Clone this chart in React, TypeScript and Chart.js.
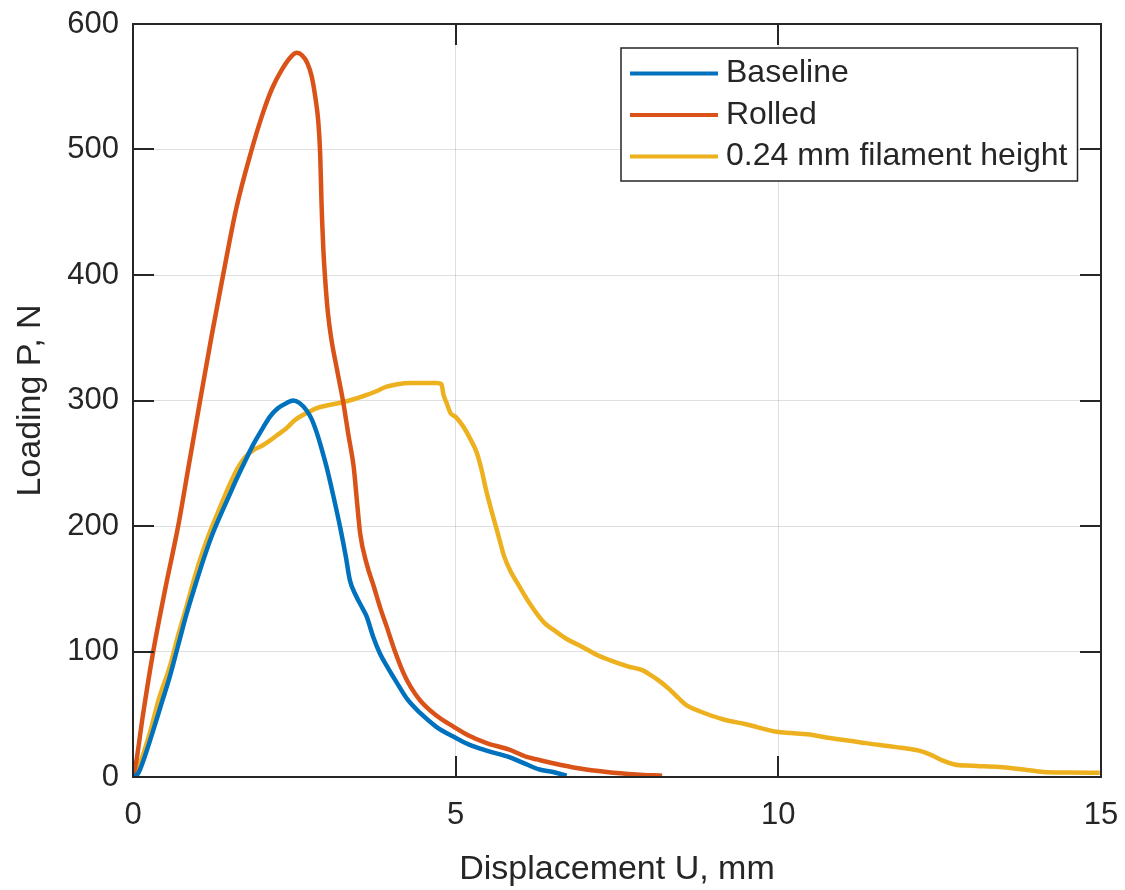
import React, { useEffect, useRef } from "react";
import { Chart, registerables } from "chart.js";

Chart.register(...registerables);

// ---- Data ----
const baselineX = [0, 0.08, 0.16, 0.3, 0.45, 0.57, 0.7, 0.83, 0.96, 1.09, 1.22, 1.35, 1.48, 1.61, 1.74, 1.865, 2.0, 2.12, 2.25, 2.38, 2.48, 2.58, 2.69, 2.77, 2.85, 2.92, 3.0, 3.1, 3.21, 3.3, 3.36, 3.45, 3.55, 3.62, 3.72, 3.83, 3.95, 4.09, 4.25, 4.45, 4.7, 4.97, 5.2, 5.48, 5.82, 6.1, 6.3, 6.51, 6.72];
const baselineY = [0, 3, 13, 35, 60, 80, 105, 130, 152, 173, 192, 208, 223, 238, 252, 265, 277, 287, 294, 298, 300, 298, 292, 285, 274, 262, 247, 225, 199, 175, 157, 145, 135, 128, 112, 98, 87, 75, 62, 51, 40, 32, 26, 21, 16, 10, 6, 4, 1];

const rolledX = [0, 0.05, 0.15, 0.31, 0.5, 0.7, 0.87, 1.04, 1.22, 1.4, 1.6, 1.84, 2.0, 2.15, 2.3, 2.45, 2.54, 2.62, 2.7, 2.77, 2.83, 2.87, 2.9, 2.92, 2.93, 2.95, 2.98, 3.02, 3.07, 3.16, 3.26, 3.34, 3.42, 3.47, 3.52, 3.62, 3.73, 3.83, 3.93, 4.06, 4.19, 4.3, 4.45, 4.7, 4.97, 5.2, 5.48, 5.82, 6.1, 6.26, 6.51, 6.9, 7.34, 7.8, 8.2];
const rolledY = [0, 12, 48, 99, 150, 200, 250, 300, 352, 401, 453, 500, 527, 548, 563, 574, 577, 575, 569, 558, 540, 523, 497, 460, 444, 420, 395, 370, 350, 325, 298, 272, 247, 220, 194, 170, 152, 135, 120, 100, 83, 72, 61, 49, 40, 33, 27, 22, 16, 14, 11, 7, 4, 2, 1];

const filamentX = [0, 0.1, 0.26, 0.4, 0.57, 0.7, 0.83, 0.96, 1.09, 1.22, 1.35, 1.48, 1.61, 1.74, 1.865, 2.0, 2.12, 2.25, 2.38, 2.5, 2.69, 2.85, 3.0, 3.2, 3.42, 3.6, 3.75, 3.93, 4.1, 4.29, 4.5, 4.71, 4.78, 4.81, 4.86, 4.92, 5.0, 5.12, 5.22, 5.33, 5.4, 5.47, 5.54, 5.61, 5.68, 5.75, 5.85, 5.95, 6.15, 6.37, 6.55, 6.72, 6.95, 7.2, 7.45, 7.68, 7.9, 8.03, 8.17, 8.31, 8.45, 8.58, 8.8, 9.14, 9.5, 9.97, 10.2, 10.45, 10.8, 11.35, 11.8, 12.18, 12.3, 12.39, 12.55, 12.73, 13.0, 13.42, 13.8, 14.11, 14.5, 14.98];
const filamentY = [0, 10, 35, 62, 88, 113, 136, 160, 181, 199, 215, 231, 245, 255, 260.5, 264, 268, 273, 278, 284, 290, 294, 296, 298, 301, 304, 307, 311, 313, 314, 314, 314, 313, 305, 298, 290, 287, 279, 270, 258, 245, 229, 215, 202, 189, 176, 164, 155, 138, 123, 116, 110, 104, 97, 92, 88, 85, 81, 76, 70, 63, 57, 52, 46, 42, 36, 35, 34, 31, 27, 24, 21, 19, 17, 13, 10, 9, 8, 6, 4, 3.5, 3.3];

const seriesLabels = ["Baseline", "Rolled", "0.24 mm filament height"];
const seriesColors = ["#0072BD", "#D95319", "#EDB120"];

const xTitle = "Displacement U, mm";
const yTitle = "Loading P, N";
const xMin = 0, xMax = 15, xStep = 5;
const yMin = 0, yMax = 600, yStep = 100;

const FONT = '"Liberation Sans", Arial, Helvetica, sans-serif';
const TEXT = "#262626";

const toPoints = (xs: number[], ys: number[]) => xs.map((x, i) => ({ x, y: ys[i] }));

const boxPlugin = {
  id: "matlabBox",
  afterDatasetsDraw(chart: any) {
    const { ctx, chartArea } = chart;
    const { left, right, top, bottom } = chartArea;
    const xs = chart.scales.x;
    const ys = chart.scales.y;
    const tl = 21;
    ctx.save();
    ctx.strokeStyle = TEXT;
    ctx.lineWidth = 2;
    ctx.beginPath();
    xs.ticks.forEach((t: any) => {
      const px = Math.round(xs.getPixelForValue(t.value));
      ctx.moveTo(px, bottom);
      ctx.lineTo(px, bottom - tl);
      ctx.moveTo(px, top);
      ctx.lineTo(px, top + tl);
    });
    ys.ticks.forEach((t: any) => {
      const py = Math.round(ys.getPixelForValue(t.value));
      ctx.moveTo(left, py);
      ctx.lineTo(left + tl, py);
      ctx.moveTo(right, py);
      ctx.lineTo(right - tl, py);
    });
    ctx.stroke();
    ctx.strokeRect(left, top, right - left, bottom - top);
    ctx.restore();
  },
  afterDraw(chart: any) {
    const { ctx, chartArea } = chart;
    const ds = chart.data.datasets;
    const fontSize = 32;
    ctx.save();
    ctx.font = `${fontSize}px ${FONT}`;
    const maxW = Math.max(...ds.map((d: any) => ctx.measureText(d.label).width));
    const lineLen = 88;
    const padL = 9;
    const gap = 8;
    const padR = 10;
    const rowH = 41.5;
    const boxW = padL + lineLen + gap + maxW + padR;
    const boxH = 133;
    const bx = Math.round(chartArea.right - 24 - boxW);
    const by = chartArea.top + 24;
    ctx.fillStyle = "#ffffff";
    ctx.fillRect(bx, by, boxW, boxH);
    ctx.strokeStyle = TEXT;
    ctx.lineWidth = 1.5;
    ctx.strokeRect(bx, by, boxW, boxH);
    ds.forEach((d: any, i: number) => {
      const cy = by + 25.5 + i * rowH;
      ctx.strokeStyle = d.borderColor;
      ctx.lineWidth = 4;
      ctx.beginPath();
      ctx.moveTo(bx + padL, cy);
      ctx.lineTo(bx + padL + lineLen, cy);
      ctx.stroke();
      ctx.fillStyle = TEXT;
      ctx.textBaseline = "middle";
      ctx.textAlign = "left";
      ctx.fillText(d.label, bx + padL + lineLen + gap, cy);
    });
    ctx.restore();
  },
};

export default function App() {
  const canvasRef = useRef<HTMLCanvasElement | null>(null);

  useEffect(() => {
    if (!canvasRef.current) return;
    const datasets = [
      toPoints(baselineX, baselineY),
      toPoints(rolledX, rolledY),
      toPoints(filamentX, filamentY),
    ].map((data, i) => ({
      label: seriesLabels[i],
      data,
      borderColor: seriesColors[i],
      backgroundColor: seriesColors[i],
      borderWidth: 4.5,
      showLine: true,
      pointRadius: 0,
      pointHoverRadius: 0,
      cubicInterpolationMode: "monotone" as const,
      fill: false,
    }));

    const chart = new Chart(canvasRef.current, {
      type: "scatter",
      data: { datasets },
      plugins: [boxPlugin],
      options: {
        animation: false,
        responsive: false,
        devicePixelRatio: 1,
        layout: { padding: { left: 0, top: 24, right: 24, bottom: 0 } },
        plugins: {
          legend: { display: false },
          tooltip: { enabled: false },
        },
        scales: {
          x: {
            type: "linear",
            min: xMin,
            max: xMax,
            afterFit: (s: any) => { s.height = 113; s.paddingLeft = 0; s.paddingRight = 0; },
            ticks: {
              stepSize: xStep,
              color: TEXT,
              padding: 20,
              maxRotation: 0,
              font: { family: FONT, size: 31 },
            },
            grid: { color: "rgba(38,38,38,0.15)", lineWidth: 1, drawTicks: false },
            border: { display: false },
            title: {
              display: true,
              text: xTitle,
              color: TEXT,
              font: { family: FONT, size: 34 },
              padding: { top: 0, bottom: 0 },
            },
          },
          y: {
            type: "linear",
            min: yMin,
            max: yMax,
            afterFit: (s: any) => { s.width = 133; s.paddingTop = 0; s.paddingBottom = 0; },
            ticks: {
              stepSize: yStep,
              color: TEXT,
              padding: 14,
              font: { family: FONT, size: 31 },
            },
            grid: { color: "rgba(38,38,38,0.15)", lineWidth: 1, drawTicks: false },
            border: { display: false },
            title: {
              display: true,
              text: yTitle,
              color: TEXT,
              font: { family: FONT, size: 34 },
              padding: { top: 10, bottom: 0 },
            },
          },
        },
      },
    });
    return () => chart.destroy();
  }, []);

  return (
    <div style={{ position: "fixed", left: 0, top: 0, width: 1125, height: 890, background: "#ffffff" }}>
      <canvas ref={canvasRef} width={1125} height={890} style={{ display: "block" }} />
    </div>
  );
}
